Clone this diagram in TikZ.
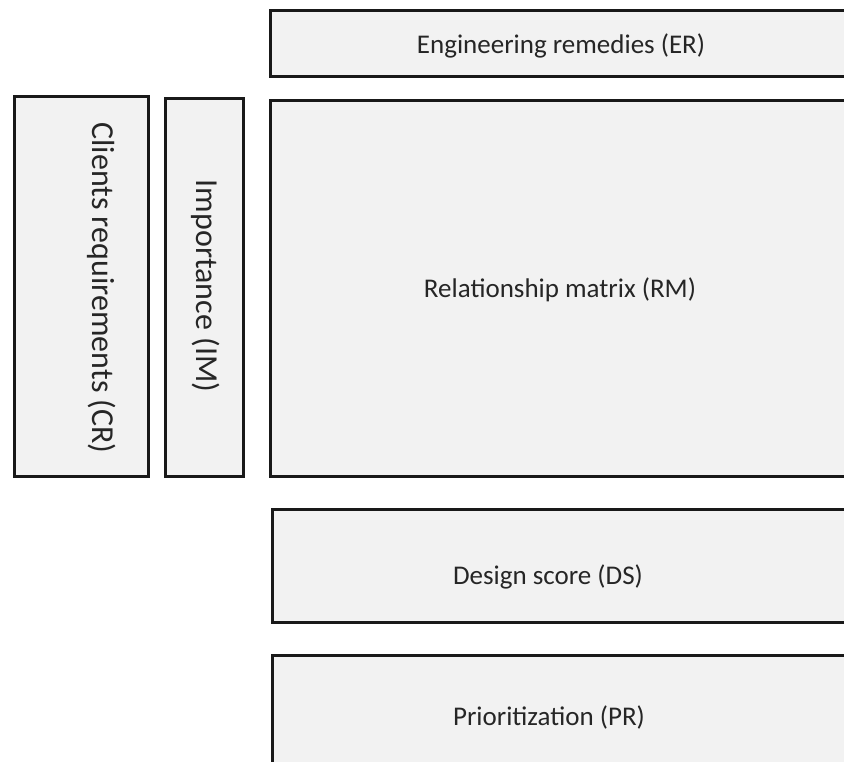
\documentclass[tikz,border=0pt]{standalone}
\usepackage{fontspec}
\setmainfont{Carlito}
\begin{document}
\begin{tikzpicture}[x=1pt,y=-1pt,
  blk/.style={draw=black!90,line width=3pt,fill=black!5},
  lbl/.style={font=\fontsize{27}{30}\selectfont,text=black!85,inner sep=0pt},
  vlbl/.style={font=\fontsize{32}{36}\selectfont,text=black!85,inner sep=0pt,rotate=-90}]
\useasboundingbox (0,0) rectangle (844,762);
\clip (0,0) rectangle (844,762);
\fill[white] (0,0) rectangle (844,762);
\draw[blk] (270,11) rectangle (870,77);
\draw[blk] (270,101) rectangle (870,476);
\draw[blk] (272,509) rectangle (870,622);
\draw[blk] (272,655) rectangle (870,800);
\draw[blk] (14,97) rectangle (148,476);
\draw[blk] (165,99) rectangle (243,476);
\node[lbl] (er) at (561,46) {Engineering remedies (ER)};
\node[lbl] (rm) at (560,290) {Relationship matrix (RM)};
\node[lbl] (ds) at (548,577) {Design score (DS)};
\node[lbl] (pr) at (549,717) {Prioritization (PR)};
\node[vlbl] (cr) at (102,288) {Clients requirements (CR)};
\node[vlbl] (im) at (206,286) {Importance (IM)};
\end{tikzpicture}
\end{document}
